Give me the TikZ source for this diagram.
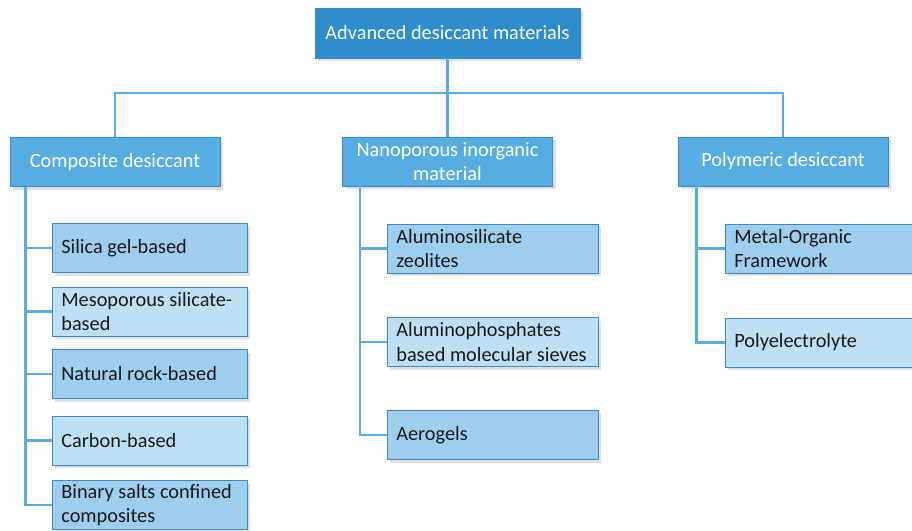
\documentclass[tikz,border=0pt]{standalone}
\usepackage{fontspec}
\setmainfont{Carlito}
\usetikzlibrary{shadows}
\definecolor{topblue}{RGB}{46,141,204}
\definecolor{midblue}{RGB}{86,173,226}
\definecolor{leafdark}{RGB}{157,206,238}
\definecolor{leaflight}{RGB}{190,224,245}
\definecolor{edgeblue}{RGB}{62,136,196}
\definecolor{linkblue}{RGB}{90,172,228}
\begin{document}
\begin{tikzpicture}[x=1pt,y=-1pt,
  box/.style={draw=edgeblue,line width=0.7pt,inner sep=0pt,
    drop shadow={shadow xshift=3pt,shadow yshift=-3pt,opacity=0.25},
    font=\fontsize{20.3}{24.5}\selectfont},
  headbox/.style={box,fill=midblue,text=white,align=center,
    minimum width=210pt,minimum height=49pt},
  leafbox/.style={box,text=black!90,align=flush left,anchor=west,
    inner xsep=9pt,text width=#1-18pt,minimum height=49pt},
  dark/.style={leafbox=#1,fill=leafdark},
  light/.style={leafbox=#1,fill=leaflight},
  link/.style={draw=linkblue,line width=2.6pt}]
\useasboundingbox (0,0) rectangle (912,530);
\clip (0,0) rectangle (912,530);
 % root and groups
 \node[headbox,fill=topblue,minimum width=265pt,minimum height=50pt] (root) at (447.5,33) {Advanced desiccant materials};
 \node[headbox] (comp) at (115,162) {Composite desiccant};
 \node[headbox] (nano) at (447.5,161.5) {Nanoporous inorganic\\material};
 \node[headbox] (poly) at (783,161.5) {Polymeric desiccant};
 \coordinate (bus) at (447.5,93);
 \draw[link] (root.south) -- (nano.north);
 \draw[link] (comp.north) |- (bus) -| (poly.north);

 % composite desiccant
 \node[dark=195pt] (silica) at (52,248) {Silica gel-based};
 \node[light=195pt] (meso) at (52,311.5) {Mesoporous silicate-\\based};
 \node[dark=195pt] (rock) at (52,374) {Natural rock-based};
 \node[light=195pt] (carbon) at (52,440.5) {Carbon-based};
 \node[dark=195pt] (binary) at (52,505) {Binary salts confined\\composites};
 \coordinate (ctrunk) at ([xshift=16pt]comp.south west);
 \foreach \n in {silica,meso,rock,carbon,binary}
   \draw[link] (ctrunk) |- (\n.west);

 % nanoporous inorganic material
 \node[dark=211pt] (alsi) at (387,248.5) {Aluminosilicate\\zeolites};
 \node[light=211pt] (alpo) at (387,342) {Aluminophosphates\\based molecular sieves};
 \node[dark=211pt] (aero) at (387,435) {Aerogels};
 \coordinate (ntrunk) at ([xshift=18pt]nano.south west);
 \foreach \n in {alsi,alpo,aero}
   \draw[link] (ntrunk) |- (\n.west);

 % polymeric desiccant
 \node[dark=210pt] (mof) at (725,248.5) {Metal-Organic\\Framework};
 \node[light=210pt] (polyel) at (725,342.5) {Polyelectrolyte};
 \coordinate (ptrunk) at ([xshift=19pt]poly.south west);
 \foreach \n in {mof,polyel}
   \draw[link] (ptrunk) |- (\n.west);
\end{tikzpicture}
\end{document}
